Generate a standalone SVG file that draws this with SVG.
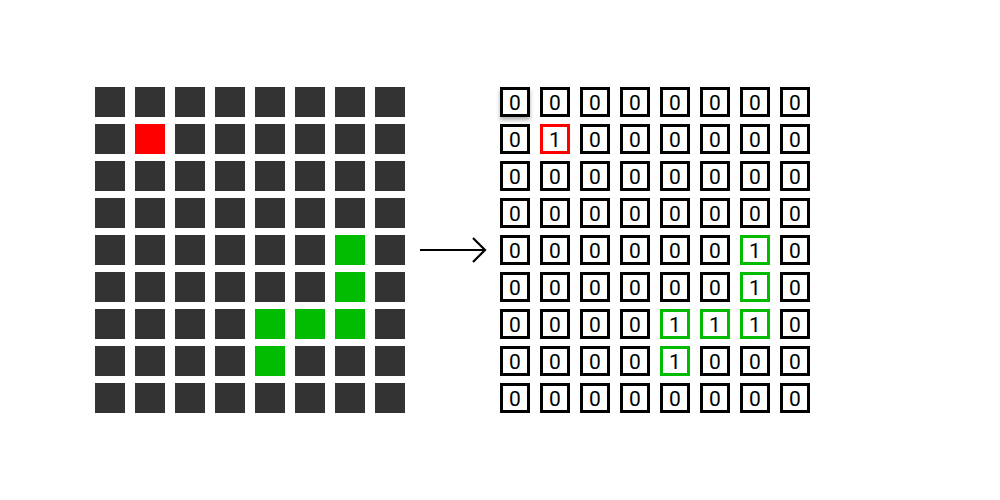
<svg xmlns="http://www.w3.org/2000/svg" width="1000" height="500" viewBox="0 0 1000 500">
<defs>
<style>
.c{fill:#333333}
.r{fill:#ff0000}
.g{fill:#00bb00}
.b{fill:#ffffff;stroke:#000000;stroke-width:3}
.bg{fill:#ffffff;stroke:#00bb00;stroke-width:3}
.br{fill:#ffffff;stroke:#ff0000;stroke-width:3}
text{font-family:Roboto,"Liberation Sans",sans-serif;font-size:21px;text-anchor:middle;fill:#000000}
.conn{stroke:#000000;stroke-width:2;fill:none}
</style>
<filter id="sh" x="-30%" y="-30%" width="160%" height="180%">
<feDropShadow dx="0" dy="3" stdDeviation="2" flood-color="#000000" flood-opacity="0.3"/>
</filter>
<marker id="arr" markerWidth="16" markerHeight="28" refX="13" refY="14" orient="auto" markerUnits="userSpaceOnUse">
<path d="M1,2 L13,14 L1,26" fill="none" stroke="#000000" stroke-width="2.2"/>
</marker>
</defs>
<rect width="1000" height="500" fill="#ffffff"/>
<g id="left-grid">
<g id="L0"><rect class="c" x="95" y="87" width="30" height="30"/><rect class="c" x="135" y="87" width="30" height="30"/><rect class="c" x="175" y="87" width="30" height="30"/><rect class="c" x="215" y="87" width="30" height="30"/><rect class="c" x="255" y="87" width="30" height="30"/><rect class="c" x="295" y="87" width="30" height="30"/><rect class="c" x="335" y="87" width="30" height="30"/><rect class="c" x="375" y="87" width="30" height="30"/></g>
<g id="L1"><rect class="c" x="95" y="124" width="30" height="30"/><rect class="r" x="135" y="124" width="30" height="30"/><rect class="c" x="175" y="124" width="30" height="30"/><rect class="c" x="215" y="124" width="30" height="30"/><rect class="c" x="255" y="124" width="30" height="30"/><rect class="c" x="295" y="124" width="30" height="30"/><rect class="c" x="335" y="124" width="30" height="30"/><rect class="c" x="375" y="124" width="30" height="30"/></g>
<g id="L2"><rect class="c" x="95" y="161" width="30" height="30"/><rect class="c" x="135" y="161" width="30" height="30"/><rect class="c" x="175" y="161" width="30" height="30"/><rect class="c" x="215" y="161" width="30" height="30"/><rect class="c" x="255" y="161" width="30" height="30"/><rect class="c" x="295" y="161" width="30" height="30"/><rect class="c" x="335" y="161" width="30" height="30"/><rect class="c" x="375" y="161" width="30" height="30"/></g>
<g id="L3"><rect class="c" x="95" y="198" width="30" height="30"/><rect class="c" x="135" y="198" width="30" height="30"/><rect class="c" x="175" y="198" width="30" height="30"/><rect class="c" x="215" y="198" width="30" height="30"/><rect class="c" x="255" y="198" width="30" height="30"/><rect class="c" x="295" y="198" width="30" height="30"/><rect class="c" x="335" y="198" width="30" height="30"/><rect class="c" x="375" y="198" width="30" height="30"/></g>
<g id="L4"><rect class="c" x="95" y="235" width="30" height="30"/><rect class="c" x="135" y="235" width="30" height="30"/><rect class="c" x="175" y="235" width="30" height="30"/><rect class="c" x="215" y="235" width="30" height="30"/><rect class="c" x="255" y="235" width="30" height="30"/><rect class="c" x="295" y="235" width="30" height="30"/><rect class="g" x="335" y="235" width="30" height="30"/><rect class="c" x="375" y="235" width="30" height="30"/></g>
<g id="L5"><rect class="c" x="95" y="272" width="30" height="30"/><rect class="c" x="135" y="272" width="30" height="30"/><rect class="c" x="175" y="272" width="30" height="30"/><rect class="c" x="215" y="272" width="30" height="30"/><rect class="c" x="255" y="272" width="30" height="30"/><rect class="c" x="295" y="272" width="30" height="30"/><rect class="g" x="335" y="272" width="30" height="30"/><rect class="c" x="375" y="272" width="30" height="30"/></g>
<g id="L6"><rect class="c" x="95" y="309" width="30" height="30"/><rect class="c" x="135" y="309" width="30" height="30"/><rect class="c" x="175" y="309" width="30" height="30"/><rect class="c" x="215" y="309" width="30" height="30"/><rect class="g" x="255" y="309" width="30" height="30"/><rect class="g" x="295" y="309" width="30" height="30"/><rect class="g" x="335" y="309" width="30" height="30"/><rect class="c" x="375" y="309" width="30" height="30"/></g>
<g id="L7"><rect class="c" x="95" y="346" width="30" height="30"/><rect class="c" x="135" y="346" width="30" height="30"/><rect class="c" x="175" y="346" width="30" height="30"/><rect class="c" x="215" y="346" width="30" height="30"/><rect class="g" x="255" y="346" width="30" height="30"/><rect class="c" x="295" y="346" width="30" height="30"/><rect class="c" x="335" y="346" width="30" height="30"/><rect class="c" x="375" y="346" width="30" height="30"/></g>
<g id="L8"><rect class="c" x="95" y="383" width="30" height="30"/><rect class="c" x="135" y="383" width="30" height="30"/><rect class="c" x="175" y="383" width="30" height="30"/><rect class="c" x="215" y="383" width="30" height="30"/><rect class="c" x="255" y="383" width="30" height="30"/><rect class="c" x="295" y="383" width="30" height="30"/><rect class="c" x="335" y="383" width="30" height="30"/><rect class="c" x="375" y="383" width="30" height="30"/></g>
</g>
<g id="connectors">
<line class="conn" x1="420" y1="250" x2="485" y2="250" marker-end="url(#arr)"/>
</g>
<g id="right-grid">
<g id="R0">
<rect class="b" x="501.5" y="88.5" width="27" height="27" filter="url(#sh)"/><text x="515" y="110">0</text>
<rect class="b" x="541.5" y="88.5" width="27" height="27"/><text x="555" y="110">0</text>
<rect class="b" x="581.5" y="88.5" width="27" height="27"/><text x="595" y="110">0</text>
<rect class="b" x="621.5" y="88.5" width="27" height="27"/><text x="635" y="110">0</text>
<rect class="b" x="661.5" y="88.5" width="27" height="27"/><text x="675" y="110">0</text>
<rect class="b" x="701.5" y="88.5" width="27" height="27"/><text x="715" y="110">0</text>
<rect class="b" x="741.5" y="88.5" width="27" height="27"/><text x="755" y="110">0</text>
<rect class="b" x="781.5" y="88.5" width="27" height="27"/><text x="795" y="110">0</text>
</g>
<g id="R1">
<rect class="b" x="501.5" y="125.5" width="27" height="27"/><text x="515" y="147">0</text>
<rect class="br" x="541.5" y="125.5" width="27" height="27"/><text x="555" y="147">1</text>
<rect class="b" x="581.5" y="125.5" width="27" height="27"/><text x="595" y="147">0</text>
<rect class="b" x="621.5" y="125.5" width="27" height="27"/><text x="635" y="147">0</text>
<rect class="b" x="661.5" y="125.5" width="27" height="27"/><text x="675" y="147">0</text>
<rect class="b" x="701.5" y="125.5" width="27" height="27"/><text x="715" y="147">0</text>
<rect class="b" x="741.5" y="125.5" width="27" height="27"/><text x="755" y="147">0</text>
<rect class="b" x="781.5" y="125.5" width="27" height="27"/><text x="795" y="147">0</text>
</g>
<g id="R2">
<rect class="b" x="501.5" y="162.5" width="27" height="27"/><text x="515" y="184">0</text>
<rect class="b" x="541.5" y="162.5" width="27" height="27"/><text x="555" y="184">0</text>
<rect class="b" x="581.5" y="162.5" width="27" height="27"/><text x="595" y="184">0</text>
<rect class="b" x="621.5" y="162.5" width="27" height="27"/><text x="635" y="184">0</text>
<rect class="b" x="661.5" y="162.5" width="27" height="27"/><text x="675" y="184">0</text>
<rect class="b" x="701.5" y="162.5" width="27" height="27"/><text x="715" y="184">0</text>
<rect class="b" x="741.5" y="162.5" width="27" height="27"/><text x="755" y="184">0</text>
<rect class="b" x="781.5" y="162.5" width="27" height="27"/><text x="795" y="184">0</text>
</g>
<g id="R3">
<rect class="b" x="501.5" y="199.5" width="27" height="27"/><text x="515" y="221">0</text>
<rect class="b" x="541.5" y="199.5" width="27" height="27"/><text x="555" y="221">0</text>
<rect class="b" x="581.5" y="199.5" width="27" height="27"/><text x="595" y="221">0</text>
<rect class="b" x="621.5" y="199.5" width="27" height="27"/><text x="635" y="221">0</text>
<rect class="b" x="661.5" y="199.5" width="27" height="27"/><text x="675" y="221">0</text>
<rect class="b" x="701.5" y="199.5" width="27" height="27"/><text x="715" y="221">0</text>
<rect class="b" x="741.5" y="199.5" width="27" height="27"/><text x="755" y="221">0</text>
<rect class="b" x="781.5" y="199.5" width="27" height="27"/><text x="795" y="221">0</text>
</g>
<g id="R4">
<rect class="b" x="501.5" y="236.5" width="27" height="27"/><text x="515" y="258">0</text>
<rect class="b" x="541.5" y="236.5" width="27" height="27"/><text x="555" y="258">0</text>
<rect class="b" x="581.5" y="236.5" width="27" height="27"/><text x="595" y="258">0</text>
<rect class="b" x="621.5" y="236.5" width="27" height="27"/><text x="635" y="258">0</text>
<rect class="b" x="661.5" y="236.5" width="27" height="27"/><text x="675" y="258">0</text>
<rect class="b" x="701.5" y="236.5" width="27" height="27"/><text x="715" y="258">0</text>
<rect class="bg" x="741.5" y="236.5" width="27" height="27"/><text x="755" y="258">1</text>
<rect class="b" x="781.5" y="236.5" width="27" height="27"/><text x="795" y="258">0</text>
</g>
<g id="R5">
<rect class="b" x="501.5" y="273.5" width="27" height="27"/><text x="515" y="295">0</text>
<rect class="b" x="541.5" y="273.5" width="27" height="27"/><text x="555" y="295">0</text>
<rect class="b" x="581.5" y="273.5" width="27" height="27"/><text x="595" y="295">0</text>
<rect class="b" x="621.5" y="273.5" width="27" height="27"/><text x="635" y="295">0</text>
<rect class="b" x="661.5" y="273.5" width="27" height="27"/><text x="675" y="295">0</text>
<rect class="b" x="701.5" y="273.5" width="27" height="27"/><text x="715" y="295">0</text>
<rect class="bg" x="741.5" y="273.5" width="27" height="27"/><text x="755" y="295">1</text>
<rect class="b" x="781.5" y="273.5" width="27" height="27"/><text x="795" y="295">0</text>
</g>
<g id="R6">
<rect class="b" x="501.5" y="310.5" width="27" height="27"/><text x="515" y="332">0</text>
<rect class="b" x="541.5" y="310.5" width="27" height="27"/><text x="555" y="332">0</text>
<rect class="b" x="581.5" y="310.5" width="27" height="27"/><text x="595" y="332">0</text>
<rect class="b" x="621.5" y="310.5" width="27" height="27"/><text x="635" y="332">0</text>
<rect class="bg" x="661.5" y="310.5" width="27" height="27"/><text x="675" y="332">1</text>
<rect class="bg" x="701.5" y="310.5" width="27" height="27"/><text x="715" y="332">1</text>
<rect class="bg" x="741.5" y="310.5" width="27" height="27"/><text x="755" y="332">1</text>
<rect class="b" x="781.5" y="310.5" width="27" height="27"/><text x="795" y="332">0</text>
</g>
<g id="R7">
<rect class="b" x="501.5" y="347.5" width="27" height="27"/><text x="515" y="369">0</text>
<rect class="b" x="541.5" y="347.5" width="27" height="27"/><text x="555" y="369">0</text>
<rect class="b" x="581.5" y="347.5" width="27" height="27"/><text x="595" y="369">0</text>
<rect class="b" x="621.5" y="347.5" width="27" height="27"/><text x="635" y="369">0</text>
<rect class="bg" x="661.5" y="347.5" width="27" height="27"/><text x="675" y="369">1</text>
<rect class="b" x="701.5" y="347.5" width="27" height="27"/><text x="715" y="369">0</text>
<rect class="b" x="741.5" y="347.5" width="27" height="27"/><text x="755" y="369">0</text>
<rect class="b" x="781.5" y="347.5" width="27" height="27"/><text x="795" y="369">0</text>
</g>
<g id="R8">
<rect class="b" x="501.5" y="384.5" width="27" height="27"/><text x="515" y="406">0</text>
<rect class="b" x="541.5" y="384.5" width="27" height="27"/><text x="555" y="406">0</text>
<rect class="b" x="581.5" y="384.5" width="27" height="27"/><text x="595" y="406">0</text>
<rect class="b" x="621.5" y="384.5" width="27" height="27"/><text x="635" y="406">0</text>
<rect class="b" x="661.5" y="384.5" width="27" height="27"/><text x="675" y="406">0</text>
<rect class="b" x="701.5" y="384.5" width="27" height="27"/><text x="715" y="406">0</text>
<rect class="b" x="741.5" y="384.5" width="27" height="27"/><text x="755" y="406">0</text>
<rect class="b" x="781.5" y="384.5" width="27" height="27"/><text x="795" y="406">0</text>
</g>
</g>
</svg>
